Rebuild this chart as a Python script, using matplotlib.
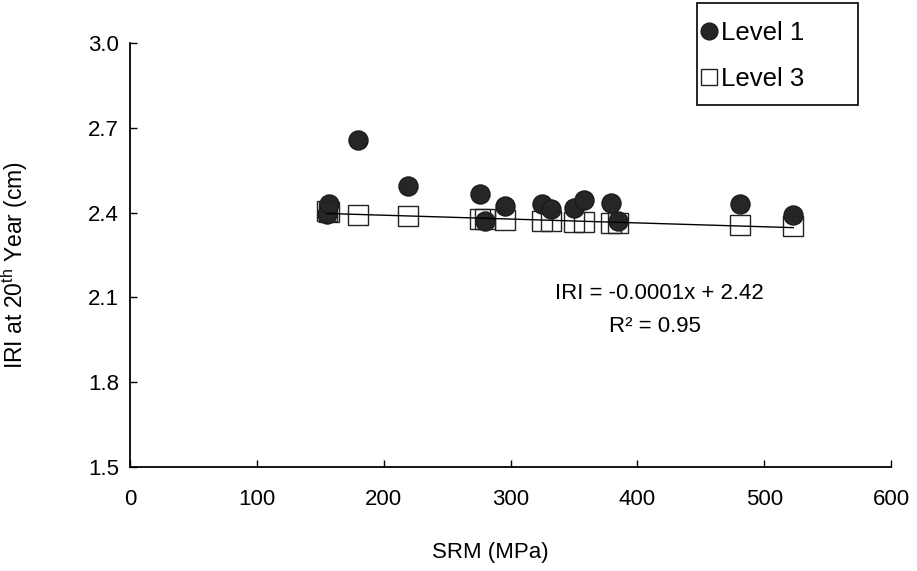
import numpy as np
import matplotlib
matplotlib.use("Agg")
import matplotlib.pyplot as plt
from matplotlib.patches import Rectangle

plt.rcParams['font.family'] = ['Liberation Sans', 'DejaVu Sans']
plt.rcParams['mathtext.fontset'] = 'custom'
plt.rcParams['mathtext.rm'] = 'Liberation Sans'
plt.rcParams['font.size'] = 16

# data
srm = [155, 157, 180, 219, 276, 280, 296, 325, 332, 350, 358, 379, 385, 481, 523]
level1 = [2.396, 2.431, 2.659, 2.493, 2.467, 2.369, 2.422, 2.429, 2.413,
          2.417, 2.445, 2.433, 2.369, 2.429, 2.392]
level3 = [2.405, 2.403, 2.392, 2.387, 2.379, 2.378, 2.375, 2.370, 2.369,
          2.368, 2.367, 2.365, 2.364, 2.357, 2.354]
x_ticks = [0, 100, 200, 300, 400, 500, 600]
y_ticks = [1.5, 1.8, 2.1, 2.4, 2.7, 3.0]
eq_text = "IRI = -0.0001x + 2.42"
r2_text = "R² = 0.95"

fig = plt.figure(figsize=(9.17, 5.71), dpi=100)
ax = fig.add_axes([130 / 917, 1 - 466.7 / 571, 761 / 917, 423.4 / 571])

c1, = ax.plot(srm, level1, 'o', ms=13.7, mfc='#262626', mec='#1a1a1a',
              mew=1, label='Level 1', zorder=3)
c3, = ax.plot(srm, level3, 's', ms=13.7, mfc='none', mec='#222222',
              mew=1, label='Level 3', zorder=4)

# linear trend line of level 3
k, b = np.polyfit(srm, level3, 1)
xs = np.array([min(srm), max(srm)])
ax.plot(xs, k * xs + b, '-', color='black', lw=1, zorder=5)

ax.text(417, 2.112, eq_text, ha='center', va='center')
ax.text(414, 1.998, r2_text, ha='center', va='center')

ax.set_xlim(0, 600)
ax.set_ylim(1.5, 3.0)
ax.set_xticks(x_ticks)
ax.set_yticks(y_ticks)
ax.set_yticklabels(['%.1f' % v for v in y_ticks])
ax.spines['top'].set_visible(False)
ax.spines['right'].set_visible(False)
for s in ['left', 'bottom']:
    ax.spines[s].set_linewidth(1.3)
ax.tick_params(direction='in', length=5, width=1)
ax.tick_params(axis='x', pad=16)
ax.tick_params(axis='y', pad=8)

ax.set_xlabel('SRM (MPa)')
ax.xaxis.set_label_coords(0.474, -0.178)
ax.set_ylabel(r'IRI at 20$^{\mathrm{th}}$ Year (cm)', fontsize=16.5)
ax.yaxis.set_label_coords(-0.132, 0.476)

# legend box
fig.patches.append(Rectangle((697 / 917, 1 - 105 / 571), 161 / 917, 102 / 571,
                             transform=fig.transFigure, fill=False,
                             edgecolor='black', lw=1.2))
fig.legend(handles=[c1, c3], loc='center', bbox_to_anchor=(752 / 917, 1 - 56 / 571),
           frameon=False, markerscale=0.88, handlelength=0.7, fontsize=18.5,
           handletextpad=0.12, labelspacing=0.85, borderpad=0)

fig.savefig('out.png', dpi=100)
